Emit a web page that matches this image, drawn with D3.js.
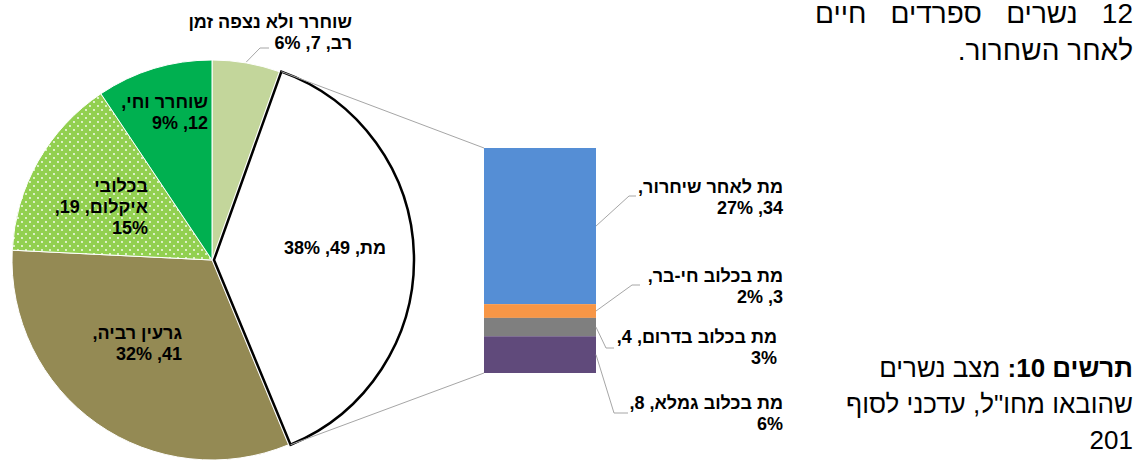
<!DOCTYPE html>
<html>
<head>
<meta charset="utf-8">
<title>pie of bar</title>
<script src="https://cdnjs.cloudflare.com/ajax/libs/d3/7.8.5/d3.min.js"></script>
<style>
  body { margin: 0; background: #fff; }
  svg { display: block; font-family: Arial, "Liberation Sans", sans-serif; }
  .lbl { font-weight: bold; font-size: 18px; fill: #000; }
  .para { font-size: 26px; fill: #000; }
  .para.top { font-size: 28px; }
</style>
</head>
<body>
<script>
// main pie (clockwise from 12 o'clock)
var pieNames = ['שוחרר ולא נצפה זמן רב', 'מת', 'גרעין רביה', 'בכלובי איקלום', 'שוחרר וחי'];
var pieValues = [7, 49, 41, 19, 12];
var piePct = [6, 38, 32, 15, 9];

// breakdown of "מת" (top to bottom)
var barNames = ['מת לאחר שיחרור', 'מת בכלוב חי-בר', 'מת בכלוב בדרום', 'מת בכלוב גמלא'];
var barValues = [34, 3, 4, 8];
var barPct = [27, 2, 3, 6];

var pieColors = ['#c3d69b', '#ffffff', '#948a54', 'url(#dots)', '#00b050'];
var barColors = ['#558ed5', '#f79646', '#7f7f7f', '#604a7b'];

var W = 1142, H = 462;
var cx = 212, cy = 260, r = 200;
var explodeIdx = 1;

// label placement: right edge, first baseline, words per line
var pieLabelPos = [
  {x: 352, y: 28, lines: [4, 3]},
  {x: 386, y: 254, lines: [3]},
  {x: 182, y: 339, lines: [2, 2]},
  {x: 148, y: 192, lines: [1, 2, 1]},
  {x: 208, y: 108, lines: [2, 2]}
];
var barLabelPos = [
  {x: 783, y: 193, lines: [3, 2], elbow: [629, 196], end: 636},
  {x: 783, y: 282, lines: [3, 2], elbow: [632, 285], end: 640},
  {x: 777, y: 343, lines: [4, 1], elbow: [606, 348], end: 614},
  {x: 783, y: 409, lines: [4, 1], elbow: [614, 413], end: 628}
];
var lineH = 21;

var svg = d3.select('body').append('svg')
  .attr('width', W)
  .attr('height', H);

// dotted fill for the light green slice
var pat = svg.append('defs').append('pattern')
  .attr('id', 'dots')
  .attr('patternUnits', 'userSpaceOnUse')
  .attr('width', 8)
  .attr('height', 8);
pat.append('rect').attr('width', 8).attr('height', 8).attr('fill', '#92d050');
pat.append('circle').attr('cx', 2).attr('cy', 2).attr('r', 0.9).attr('fill', '#fff');
pat.append('circle').attr('cx', 6).attr('cy', 6).attr('r', 0.9).attr('fill', '#fff');

var pie = d3.pie().sort(null).value(function(d) { return d; });
var arcs = pie(pieValues);
var arc = d3.arc().innerRadius(0).outerRadius(r);

function polar(a, rad) {
  return [Math.sin(a) * rad, -Math.cos(a) * rad];
}

var g = svg.append('g').attr('transform', 'translate(' + cx + ',' + cy + ')');

// slices, the exploded one last so its outline sits on top
var order = arcs.map(function(d, i) { return i; }).filter(function(i) { return i !== explodeIdx; });
order.push(explodeIdx);

g.selectAll('path.slice')
  .data(order.map(function(i) { return arcs[i]; }))
  .enter()
  .append('path')
    .attr('class', 'slice')
    .attr('d', arc)
    .attr('transform', function(d) {
      if (d.index !== explodeIdx) return null;
      var p = polar((d.startAngle + d.endAngle) / 2, 2);
      return 'translate(' + p[0] + ',' + p[1] + ')';
    })
    .attr('fill', function(d) { return pieColors[d.index]; })
    .attr('stroke', function(d) { return d.index === explodeIdx ? '#000' : '#fff'; })
    .attr('stroke-width', function(d) { return d.index === explodeIdx ? 2.5 : 1; })
    .attr('stroke-linejoin', 'miter');

// bar of the exploded slice
var total = d3.sum(barValues);
var y = d3.scaleLinear().domain([0, total]).range([148, 373]);
var x = d3.scaleBand().domain(['bar']).range([484, 596]);
var stack = [];
barValues.reduce(function(acc, v, i) {
  stack.push({i: i, y0: acc, y1: acc + v});
  return acc + v;
}, 0);

svg.selectAll('rect.seg')
  .data(stack)
  .enter()
  .append('rect')
    .attr('class', 'seg')
    .attr('x', x('bar'))
    .attr('width', x.bandwidth())
    .attr('y', function(d) { return y(d.y0); })
    .attr('height', function(d) { return y(d.y1) - y(d.y0); })
    .attr('fill', function(d) { return barColors[d.i]; });

// connector lines pie -> bar
var ex = arcs[explodeIdx];
var off = polar((ex.startAngle + ex.endAngle) / 2, 2);
var pTop = polar(ex.startAngle, r), pBot = polar(ex.endAngle, r);
svg.append('line')
  .attr('x1', cx + pTop[0] + off[0]).attr('y1', cy + pTop[1] + off[1])
  .attr('x2', x('bar')).attr('y2', y(0))
  .attr('stroke', '#a6a6a6').attr('stroke-width', 1);
svg.append('line')
  .attr('x1', cx + pBot[0] + off[0]).attr('y1', cy + pBot[1] + off[1])
  .attr('x2', x('bar')).attr('y2', y(total))
  .attr('stroke', '#a6a6a6').attr('stroke-width', 1);

// RTL multi-line label
function drawLabel(words, pos, cls) {
  var t = svg.append('text')
    .attr('class', cls)
    .attr('direction', 'rtl')
    .attr('text-anchor', 'start');
  var k = 0;
  pos.lines.forEach(function(n, li) {
    t.append('tspan')
      .attr('x', pos.x)
      .attr('y', pos.y + li * lineH)
      .text(words.slice(k, k + n).join(' '));
    k += n;
  });
}

pieNames.forEach(function(name, i) {
  var words = (name + ', ' + pieValues[i] + ', ' + piePct[i] + '%').split(' ');
  drawLabel(words, pieLabelPos[i], 'lbl');
});

barNames.forEach(function(name, i) {
  var words = (name + ', ' + barValues[i] + ', ' + barPct[i] + '%').split(' ');
  drawLabel(words, barLabelPos[i], 'lbl');
});

// leader for the small outside pie label
var sage = arcs[0];
var ps = polar((sage.startAngle + sage.endAngle) / 2, r + 1);
svg.append('polyline')
  .attr('points', [[cx + ps[0], cy + ps[1]], [260, 48], [269, 48]].join(' '))
  .attr('fill', 'none').attr('stroke', '#a6a6a6').attr('stroke-width', 1);

// leaders for bar labels
stack.forEach(function(d) {
  var p = barLabelPos[d.i];
  var ym = (y(d.y0) + y(d.y1)) / 2;
  svg.append('polyline')
    .attr('points', [[x('bar') + x.bandwidth(), ym], p.elbow, [p.end, p.elbow[1]]].join(' '))
    .attr('fill', 'none').attr('stroke', '#a6a6a6').attr('stroke-width', 1);
});

// side text
var right = 1133;
function para(txt, yy, cls) {
  return svg.append('text').attr('class', cls || 'para')
    .attr('direction', 'rtl').attr('text-anchor', 'start')
    .attr('x', right).attr('y', yy)
    .text(txt);
}
var l1 = para('12 נשרים ספרדים חיים', 23, 'para top');
var nat = l1.node().getComputedTextLength();
l1.attr('word-spacing', Math.max(0, (right - 815 - nat) / 3));
para('לאחר השחרור.', 60, 'para top');

var cap = para('', 377);
cap.append('tspan').attr('font-weight', 'bold').text('תרשים 10:');
cap.append('tspan').text(' מצב נשרים');
para('שהובאו מחו"ל, עדכני לסוף', 413);
para('201', 449);
</script>
</body>
</html>
